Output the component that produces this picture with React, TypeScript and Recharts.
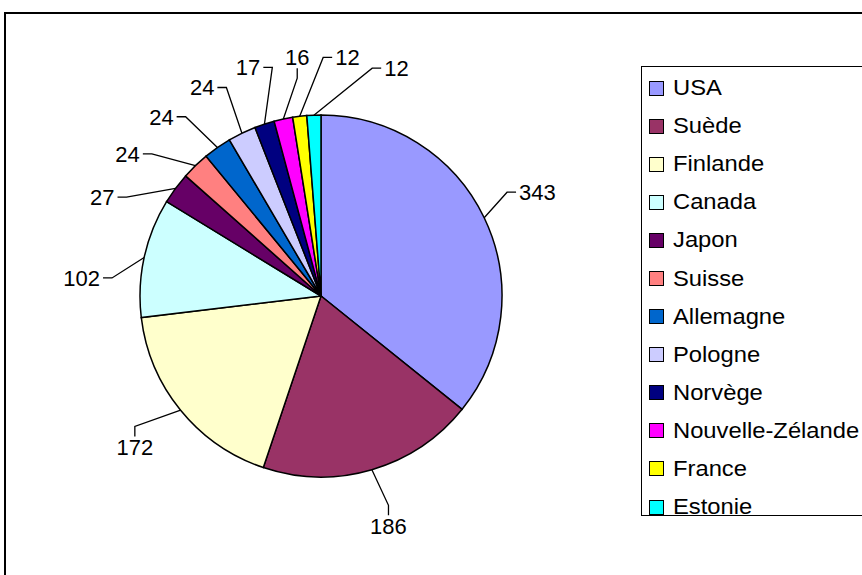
import { Cell, Legend, Pie, PieChart } from "recharts";

const countries = [
  "USA",
  "Suède",
  "Finlande",
  "Canada",
  "Japon",
  "Suisse",
  "Allemagne",
  "Pologne",
  "Norvège",
  "Nouvelle-Zélande",
  "France",
  "Estonie",
];
const values = [343, 186, 172, 102, 27, 24, 24, 24, 17, 16, 12, 12];
const colors = [
  "#9999FF",
  "#993366",
  "#FFFFCC",
  "#CCFFFF",
  "#660066",
  "#FF8080",
  "#0066CC",
  "#CCCCFF",
  "#000080",
  "#FF00FF",
  "#FFFF00",
  "#00FFFF",
];

const data = countries.map((name, i) => ({ name, value: values[i] }));

const FONT = "'Liberation Sans', Arial, sans-serif";
const FONT_SIZE = 22;
const RAD = Math.PI / 180;

// min angular gap between two neighbouring labels (wider text needs more room)
const pairGap = (a: number, b: number) =>
  12 + 8 * (Math.max(String(a).length, String(b).length) - 2);

// label angles, clockwise from 12 o'clock, spread so small slices don't collide
function spreadLabelAngles(vals: number[]): number[] {
  const total = vals.reduce((a, b) => a + b, 0);
  let acc = 0;
  const a = vals.map((v) => {
    const mid = ((acc + v / 2) / total) * 360;
    acc += v;
    return mid;
  });
  const n = a.length;
  for (let it = 0; it < 600; it++) {
    for (let i = 0; i < n - 1; i++) {
      const gap = pairGap(vals[i], vals[i + 1]);
      const d = a[i + 1] - a[i];
      if (d < gap) {
        const push = (gap - d) / 2;
        a[i] -= push;
        a[i + 1] += push;
      }
    }
    const gap = pairGap(vals[n - 1], vals[0]);
    const wrap = a[0] + 360 - a[n - 1];
    if (wrap < gap) {
      const push = (gap - wrap) / 2;
      a[0] += push;
      a[n - 1] -= push;
    }
  }
  return a;
}

const labelAngles = spreadLabelAngles(values);

const renderLabel = (props: any) => {
  const { cx, cy, outerRadius, midAngle, index, value } = props;
  const r = outerRadius;
  // edge point on the slice
  const ex = cx + r * Math.cos(-midAngle * RAD);
  const ey = cy + r * Math.sin(-midAngle * RAD);
  // text centre
  const th = labelAngles[index];
  const lr = r + 59;
  const tx = cx + lr * Math.sin(th * RAD);
  const ty = cy - lr * Math.cos(th * RAD);
  const text = String(value);
  const w = text.length * 0.556 * FONT_SIZE;
  const h = 16;
  const c = Math.cos(th * RAD);
  const s = Math.sin(th * RAD);
  const vertical = c < -0.6 || (c > 0.96 && s < 0);
  let ax: number, ay: number, bx: number, by: number;
  if (vertical) {
    const dir = ty < cy ? 1 : -1; // attach below text if above pie
    ax = tx;
    ay = ty + dir * (h / 2 + 3);
    bx = ax;
    by = ay + dir * 10;
  } else {
    const dir = tx < cx ? 1 : -1;
    ax = tx + dir * (w / 2 + 3);
    ay = ty;
    bx = ax + dir * 9;
    by = ay;
  }
  return (
    <g>
      <polyline
        points={`${ex},${ey} ${bx},${by} ${ax},${ay}`}
        fill="none"
        stroke="#000"
        strokeWidth={1.3}
      />
      <text
        x={tx}
        y={ty}
        dy="0.36em"
        textAnchor="middle"
        fill="#000"
        fontSize={FONT_SIZE}
        fontFamily={FONT}
      >
        {text}
      </text>
    </g>
  );
};

const LegendBox = () => (
  <div
    style={{
      width: 400,
      height: 450,
      borderTop: "1.5px solid #000",
      borderLeft: "1.5px solid #000",
      borderBottom: "1.5px solid #000",
      boxSizing: "border-box",
      background: "#fff",
      fontFamily: FONT,
      fontSize: FONT_SIZE,
      color: "#000",
      paddingTop: 2,
    }}
  >
    {countries.map((name, i) => (
      <div
        key={name}
        style={{
          display: "flex",
          alignItems: "center",
          height: 38.1,
          paddingLeft: 7,
          whiteSpace: "nowrap",
        }}
      >
        <span
          style={{
            width: 15,
            height: 15,
            boxSizing: "border-box",
            border: "1.5px solid #000",
            background: colors[i],
            marginRight: 9,
            flex: "none",
          }}
        />
        <span style={{ display: "inline-block", transform: "scaleX(1.08)", transformOrigin: "left center" }}>
          {name}
        </span>
      </div>
    ))}
  </div>
);

export default function App() {
  return (
    <div
      style={{
        position: "absolute",
        left: 0,
        top: 0,
        width: 862,
        height: 575,
        overflow: "hidden",
        background: "#fff",
      }}
    >
      <PieChart width={862} height={575} margin={{ top: 0, right: 0, bottom: 0, left: 0 }}>
        <Pie
          data={data}
          dataKey="value"
          nameKey="name"
          cx={321}
          cy={296}
          outerRadius={181}
          startAngle={90}
          endAngle={-270}
          stroke="#000"
          strokeWidth={1.5}
          label={renderLabel}
          labelLine={false}
          isAnimationActive={false}
        >
          {data.map((d, i) => (
            <Cell key={d.name} fill={colors[i]} />
          ))}
        </Pie>
        <Legend
          layout="vertical"
          align="right"
          verticalAlign="top"
          content={<LegendBox />}
          wrapperStyle={{ position: "absolute", left: 641, top: 66, width: 400 }}
        />
      </PieChart>
      {/* chart area frame */}
      <div
        style={{
          position: "absolute",
          left: 4,
          top: 12,
          width: 1000,
          height: 1000,
          border: "2px solid #000",
          boxSizing: "border-box",
          pointerEvents: "none",
        }}
      />
    </div>
  );
}
